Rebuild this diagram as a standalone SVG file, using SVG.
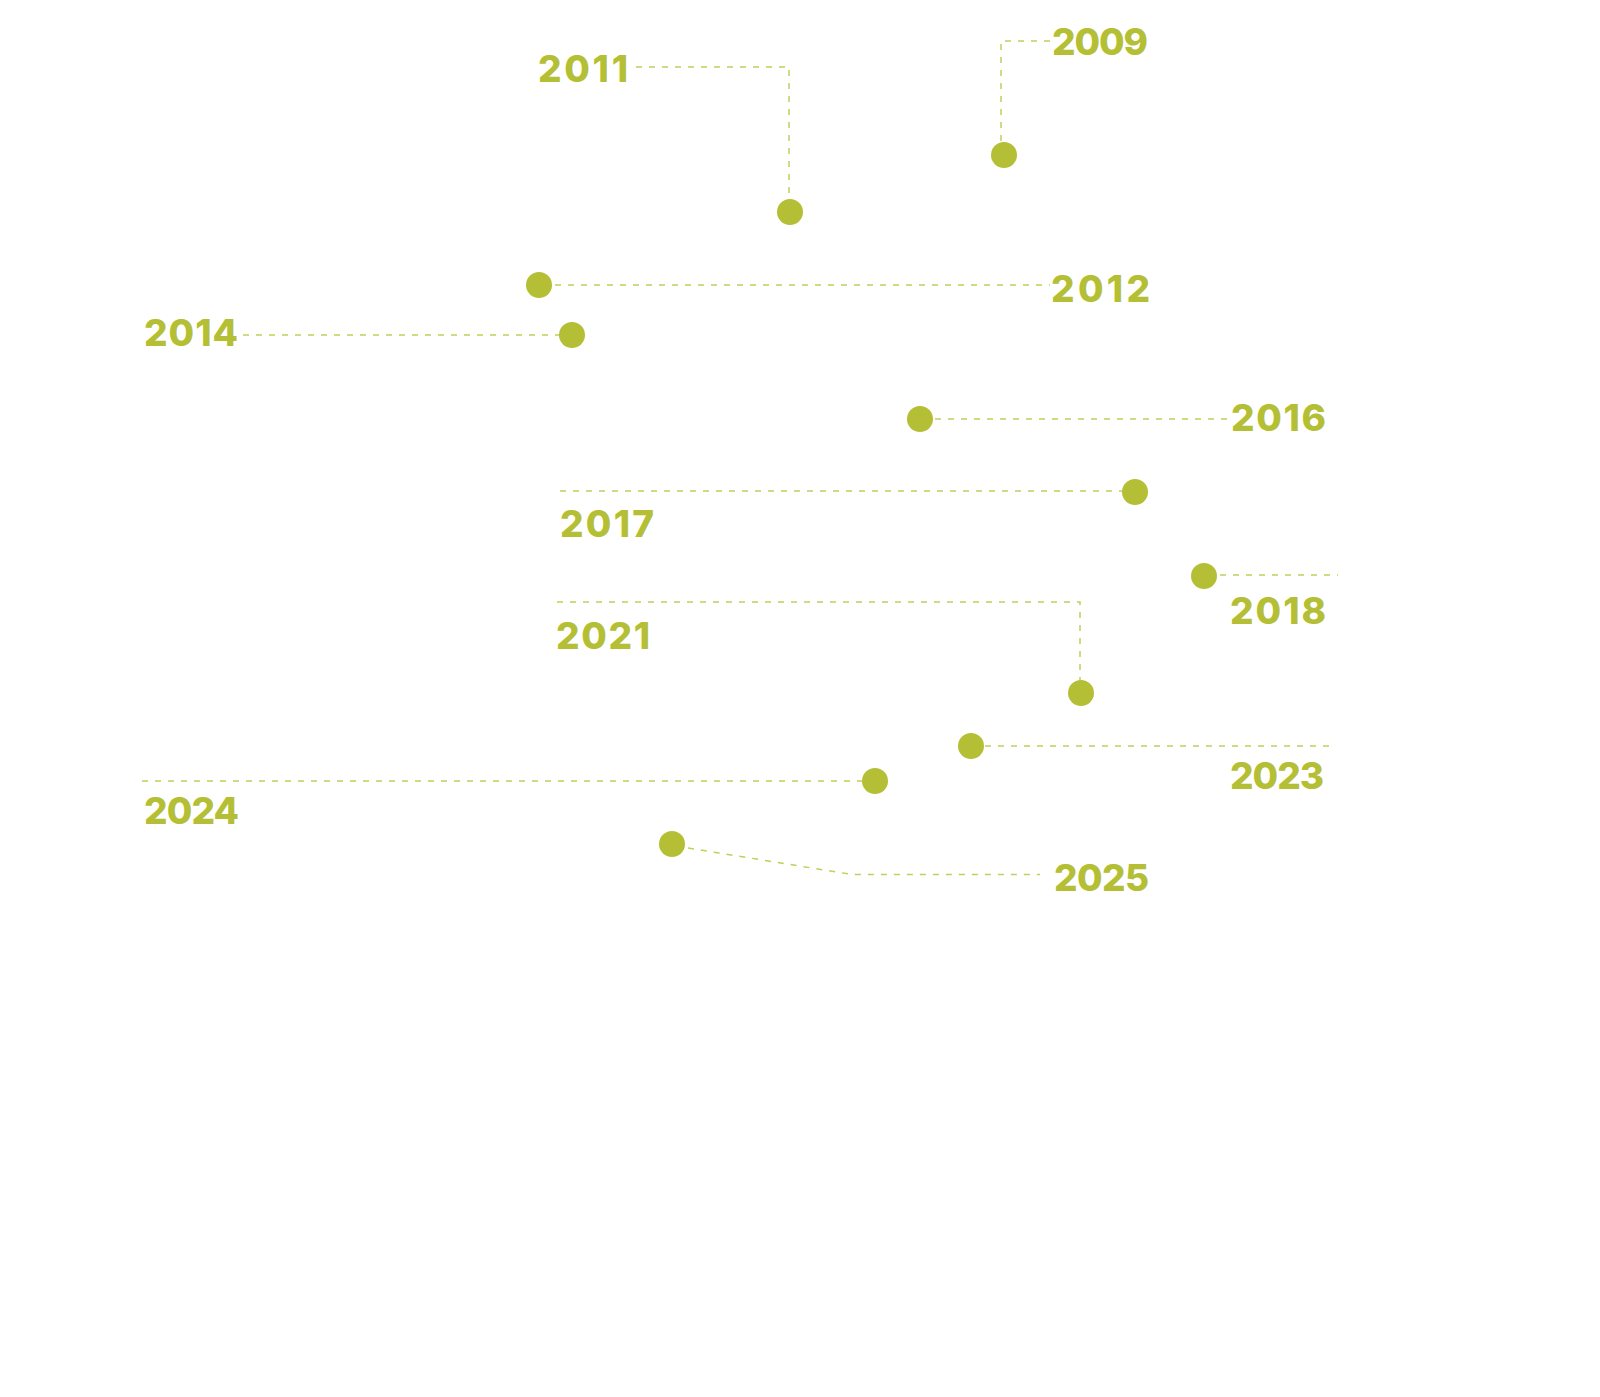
<svg xmlns="http://www.w3.org/2000/svg" width="1600" height="1397" viewBox="0 0 1600 1397">
<style>
.dot{fill:#b4bf35}
.lbl{fill:#b4bf35;font-family:Inter,"Liberation Sans",sans-serif;font-weight:800;font-size:37px}
.ln{fill:none;stroke:#c3cd5c;stroke-width:1.5;stroke-dasharray:6 7}
</style>
<rect width="1600" height="1397" fill="#ffffff"/>
<g id="connectors">
<path class="ln" d="M1001,141 V41 H1050"/>
<path class="ln" d="M636,67 H789 V196"/>
<path class="ln" d="M555,285 H1050"/>
<path class="ln" d="M243,335 H560"/>
<path class="ln" d="M935,419 H1228"/>
<path class="ln" d="M560,491 H1122"/>
<path class="ln" d="M1220,575 H1338"/>
<path class="ln" d="M557,602 H1080 V680"/>
<path class="ln" d="M985,746 H1336"/>
<path class="ln" d="M142,781 H862"/>
<path class="ln" d="M688,848 L852,874.5 H1040"/>
</g>
<g id="n2009"><circle class="dot" cx="1004" cy="155" r="13"/><text class="lbl" x="1052" y="55" textLength="96" lengthAdjust="spacing">2009</text></g>
<g id="n2011"><circle class="dot" cx="790" cy="212" r="13"/><text class="lbl" x="538" y="81.5" textLength="90" lengthAdjust="spacing">2011</text></g>
<g id="n2012"><circle class="dot" cx="539" cy="285" r="13"/><text class="lbl" x="1051" y="301.5" textLength="99" lengthAdjust="spacing">2012</text></g>
<g id="n2014"><circle class="dot" cx="572" cy="335" r="13"/><text class="lbl" x="144" y="346" textLength="94" lengthAdjust="spacing">2014</text></g>
<g id="n2016"><circle class="dot" cx="920" cy="419" r="13"/><text class="lbl" x="1231" y="431" textLength="95" lengthAdjust="spacing">2016</text></g>
<g id="n2017"><circle class="dot" cx="1135" cy="492" r="13"/><text class="lbl" x="560" y="537" textLength="94" lengthAdjust="spacing">2017</text></g>
<g id="n2018"><circle class="dot" cx="1204" cy="576" r="13"/><text class="lbl" x="1230" y="624" textLength="96" lengthAdjust="spacing">2018</text></g>
<g id="n2021"><circle class="dot" cx="1081" cy="693" r="13"/><text class="lbl" x="556" y="649" textLength="94" lengthAdjust="spacing">2021</text></g>
<g id="n2023"><circle class="dot" cx="971" cy="746" r="13"/><text class="lbl" x="1230" y="789" textLength="94" lengthAdjust="spacing">2023</text></g>
<g id="n2024"><circle class="dot" cx="875" cy="781" r="13"/><text class="lbl" x="144" y="824" textLength="95" lengthAdjust="spacing">2024</text></g>
<g id="n2025"><circle class="dot" cx="672" cy="844" r="13"/><text class="lbl" x="1054" y="890.5" textLength="95" lengthAdjust="spacing">2025</text></g>
</svg>
